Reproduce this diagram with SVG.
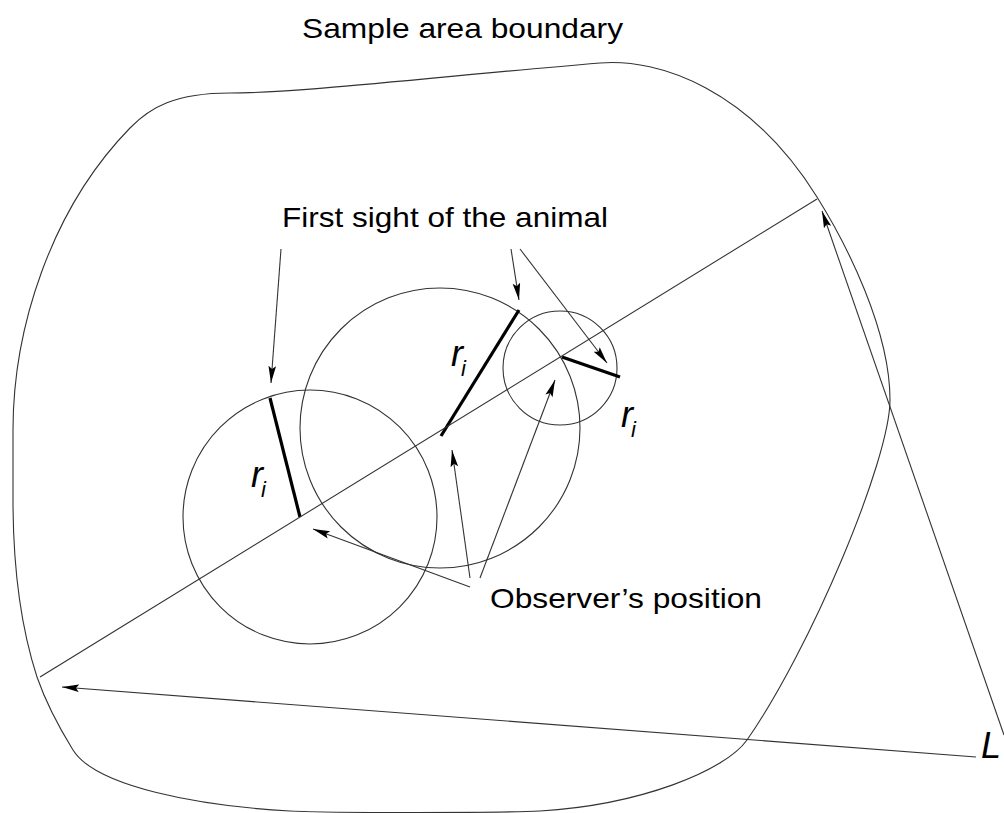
<svg xmlns="http://www.w3.org/2000/svg" width="1004" height="813" viewBox="0 0 1004 813">
<style>
.thin{fill:none;stroke:#333;stroke-width:1.1}
.thick{fill:none;stroke:#000;stroke-width:3.2;stroke-linecap:butt}
.lbl{font-family:"Liberation Sans",Arial,sans-serif;font-size:28px;fill:#000}
.ri{font-family:"Liberation Sans",Arial,sans-serif;font-style:italic;fill:#000}
</style>
<defs>
<marker id="ah" viewBox="0 -5 18 10" refX="17" refY="0" markerWidth="18" markerHeight="10" orient="auto" markerUnits="userSpaceOnUse">
<path d="M0,-3.8 L17,0 L0,3.8 L3,0 z" fill="#000"/>
</marker>
</defs>
<rect width="1004" height="813" fill="#fff"/>
<g id="boundary">
<path class="thin" d="M13,430 C13,330 50,210 130,128 C150,107.5 175,93 230,93 C300,93 420,78 600,63 C660,58 750,90 817,197 C847,245 890,330 890,400 C890,460 810,650 747,740 C725,771 640,805 540,811 C500,813 330,813 290,811 C200,806 96,787 73,750 C60,729 45,700 37,677 C25,640 13,580 13,500 Z"/>
<text class="lbl" x="302" y="38" textLength="321" lengthAdjust="spacingAndGlyphs">Sample area boundary</text>
</g>
<g id="circle-1"><circle class="thin" cx="310" cy="517" r="127"/></g>
<g id="circle-2"><circle class="thin" cx="440" cy="428" r="140"/></g>
<g id="circle-3"><circle class="thin" cx="560" cy="368" r="57"/></g>
<g id="ri-1">
<line class="thick" x1="270" y1="398" x2="300" y2="517"/>
<text class="ri" x="251" y="487" font-size="36">r</text><text class="ri" x="261" y="497" font-size="22">i</text>
</g>
<g id="ri-2">
<line class="thick" x1="519" y1="310" x2="441" y2="436"/>
<text class="ri" x="451" y="366" font-size="36">r</text><text class="ri" x="461" y="376" font-size="22">i</text>
</g>
<g id="ri-3">
<line class="thick" x1="562" y1="357" x2="620" y2="377"/>
<text class="ri" x="621" y="427" font-size="36">r</text><text class="ri" x="631" y="437" font-size="22">i</text>
</g>
<g id="label-first-sight">
<text class="lbl" x="282" y="227" textLength="326" lengthAdjust="spacingAndGlyphs">First sight of the animal</text>
</g>
<g id="label-observer">
<text class="lbl" x="490" y="608" textLength="272" lengthAdjust="spacingAndGlyphs">Observer’s position</text>
</g>
<g id="label-L">
<text class="ri" x="981" y="758" font-size="36">L</text>
</g>
<g id="connectors">
<line class="thin" x1="40" y1="677" x2="817" y2="199"/>
<line class="thin" x1="976" y1="757" x2="62" y2="687" marker-end="url(#ah)"/>
<line class="thin" x1="1004" y1="735" x2="822" y2="211" marker-end="url(#ah)"/>
<line class="thin" x1="281" y1="249" x2="271" y2="383" marker-end="url(#ah)"/>
<line class="thin" x1="511" y1="249" x2="519" y2="300" marker-end="url(#ah)"/>
<line class="thin" x1="520" y1="249" x2="607" y2="363" marker-end="url(#ah)"/>
<line class="thin" x1="470" y1="587" x2="313" y2="529" marker-end="url(#ah)"/>
<line class="thin" x1="470" y1="578" x2="452" y2="450" marker-end="url(#ah)"/>
<line class="thin" x1="480" y1="578" x2="555" y2="380" marker-end="url(#ah)"/>
</g>
</svg>
